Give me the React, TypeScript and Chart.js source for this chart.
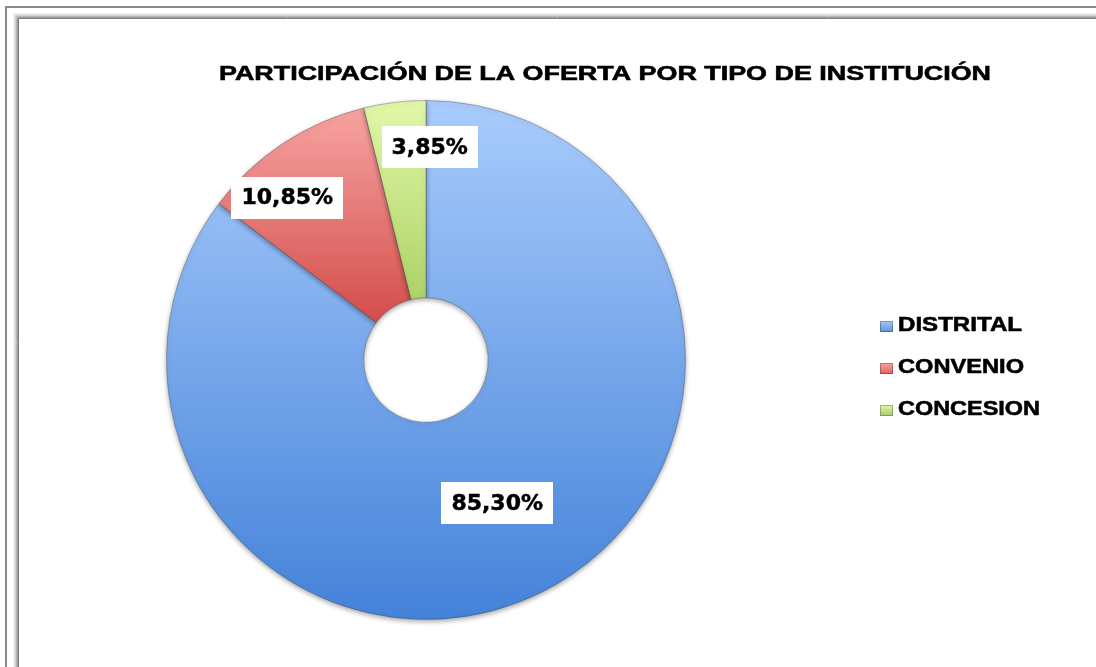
import React, { useEffect, useRef } from "react";
import { Chart, registerables } from "chart.js";

Chart.register(...registerables);

const TITLE = "PARTICIPACIÓN DE LA OFERTA POR TIPO DE INSTITUCIÓN";
const categories = ["DISTRITAL", "CONVENIO", "CONCESION"];
const values = [85.3, 10.85, 3.85];
const labelTexts = ["85,30%", "10,85%", "3,85%"];
const gradTop = ["#a9ccfc", "#f8a7a5", "#e2f8a8"];
const gradBottom = ["#4482d9", "#d24846", "#a3cc5c"];
const legendColors = ["#5a8fd6", "#d9605e", "#a9c86a"];

// label anchors (angle in degrees, fraction of outer radius)
const labelPolar = [
  { a: 63.5, f: 0.615 },
  { a: 229.5, f: 0.823 },
  { a: 271, f: 0.82 },
];

const framePlugin = {
  id: "frame",
  beforeDraw(chart: any) {
    const ctx = chart.ctx;
    ctx.save();
    ctx.fillStyle = "#ffffff";
    ctx.fillRect(0, 0, chart.width, chart.height);
    ctx.strokeStyle = "#8a8a8a";
    ctx.lineWidth = 2;
    ctx.beginPath();
    ctx.moveTo(6, chart.height + 5);
    ctx.lineTo(6, 7);
    ctx.lineTo(chart.width + 5, 7);
    ctx.stroke();
    const bands = ["#f2f2f2", "#e4e4e4", "#d0d0d0", "#b8b8b8", "#9a9a9a", "#808080"];
    bands.forEach((c, i) => {
      ctx.strokeStyle = c;
      ctx.lineWidth = 1;
      const p = 13.5 + i;
      ctx.beginPath();
      ctx.moveTo(p, chart.height + 5);
      ctx.lineTo(p, p);
      ctx.lineTo(chart.width + 5, p);
      ctx.stroke();
    });
    ctx.restore();
  },
};

function wideText(ctx: any, txt: string, x: number, y: number, targetW: number) {
  const w = ctx.measureText(txt).width;
  const s = targetW / w;
  ctx.save();
  ctx.translate(x, y);
  ctx.scale(s, 1);
  ctx.textAlign = "left";
  ctx.textBaseline = "alphabetic";
  ctx.fillText(txt, 0, 0);
  ctx.strokeText(txt, 0, 0);
  ctx.restore();
}

const textPlugin = {
  id: "texts",
  afterDraw(chart: any) {
    const ctx = chart.ctx;
    ctx.save();
    ctx.fillStyle = "#000";
    ctx.strokeStyle = "#000";
    ctx.lineWidth = 0.6;
    // title
    ctx.font = "bold 21px 'Liberation Sans', Arial, sans-serif";
    wideText(ctx, TITLE, 219, 80, 772);

    // data labels
    const meta = chart.getDatasetMeta(0);
    ctx.font = "bold 22px 'DejaVu Sans', sans-serif";
    meta.data.forEach((arc: any, i: number) => {
      const p = labelPolar[i];
      const ang = (p.a * Math.PI) / 180;
      const cx = arc.x + Math.cos(ang) * arc.outerRadius * p.f;
      const cy = arc.y + Math.sin(ang) * arc.outerRadius * p.f;
      const txt = labelTexts[i];
      const w = ctx.measureText(txt).width + 20;
      const h = 42;
      ctx.fillStyle = "#ffffff";
      ctx.fillRect(Math.round(cx - w / 2), Math.round(cy - h / 2), Math.round(w), h);
      ctx.fillStyle = "#000";
      ctx.textAlign = "center";
      ctx.textBaseline = "middle";
      ctx.lineWidth = 0.5;
      ctx.fillText(txt, cx, cy + 1);
      ctx.strokeText(txt, cx, cy + 1);
    });

    // legend
    ctx.font = "bold 21px 'Liberation Sans', Arial, sans-serif";
    ctx.lineWidth = 0.6;
    const legendW = [124, 126, 142];
    categories.forEach((c, i) => {
      const y = 326.5 + i * 42;
      const g = ctx.createLinearGradient(0, y - 6, 0, y + 6);
      g.addColorStop(0, gradTop[i]);
      g.addColorStop(1, legendColors[i]);
      ctx.fillStyle = g;
      ctx.fillRect(880, y - 5.5, 13, 11);
      ctx.save();
      ctx.strokeStyle = "rgba(0,0,0,0.25)";
      ctx.lineWidth = 1;
      ctx.strokeRect(880.5, y - 5, 12, 10);
      ctx.restore();
      ctx.fillStyle = "#000";
      wideText(ctx, c, 898, y + 4.5, legendW[i]);
    });
    ctx.restore();
  },
};

const shadowPlugin = {
  id: "arcShadow",
  beforeDatasetsDraw(chart: any) {
    const ctx = chart.ctx;
    ctx.save();
    ctx.shadowColor = "rgba(0,0,0,0.35)";
    ctx.shadowBlur = 5;
    ctx.shadowOffsetY = 2;
  },
  afterDatasetsDraw(chart: any) {
    chart.ctx.restore();
  },
};

export default function App() {
  const ref = useRef<HTMLCanvasElement | null>(null);
  useEffect(() => {
    if (!ref.current) return;
    const chart = new Chart(ref.current, {
      type: "doughnut",
      data: {
        labels: categories,
        datasets: [
          {
            data: values,
            backgroundColor: (c: any) => {
              const ch = c.chart;
              const area = ch.chartArea;
              if (!area) return gradBottom[c.dataIndex];
              const g = ch.ctx.createLinearGradient(0, area.top, 0, area.bottom);
              g.addColorStop(0, gradTop[c.dataIndex]);
              g.addColorStop(c.dataIndex === 0 ? 1 : 0.45, gradBottom[c.dataIndex]);
              return g;
            },
            borderColor: "rgba(60,60,60,0.35)",
            borderWidth: 1,
          },
        ],
      },
      options: {
        responsive: false,
        animation: false,
        cutout: "24%",
        layout: { padding: { left: 166, top: 100, right: 410, bottom: 47 } },
        plugins: {
          legend: { display: false },
          title: { display: false },
          tooltip: { enabled: false },
        },
      },
      plugins: [framePlugin, shadowPlugin, textPlugin],
    });
    return () => chart.destroy();
  }, []);
  return (
    <div style={{ position: "fixed", left: 0, top: 0, width: 1096, height: 667 }}>
      <canvas ref={ref} width={1096} height={667} style={{ display: "block" }} />
    </div>
  );
}
